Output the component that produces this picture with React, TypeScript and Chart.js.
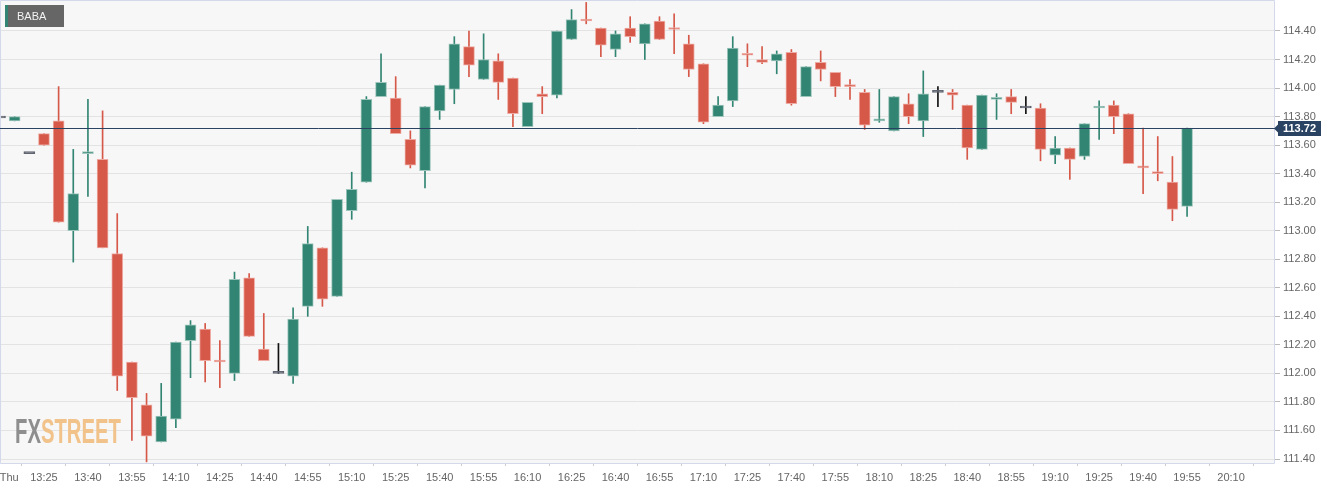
import { useEffect, useRef } from "react";
import { Chart, registerables } from "chart.js";

Chart.register(...registerables);

const SYMBOL = "BABA";
const START_TIME = "13:10";
const X_TICK_LABELS = ["Thu", "13:25", "13:40", "13:55", "14:10", "14:25", "14:40", "14:55", "15:10", "15:25", "15:40", "15:55", "16:10", "16:25", "16:40", "16:55", "17:10", "17:25", "17:40", "17:55", "18:10", "18:25", "18:40", "18:55", "19:10", "19:25", "19:40", "19:55", "20:10"];
const Y_TICKS = [111.4, 111.6, 111.8, 112.0, 112.2, 112.4, 112.6, 112.8, 113.0, 113.2, 113.4, 113.6, 113.8, 114.0, 114.2, 114.4];

const times = [
  "13:10", "13:15", "13:20", "13:25", "13:30", "13:35", "13:40", "13:45", "13:50", "13:55",
  "14:00", "14:05", "14:10", "14:15", "14:20", "14:25", "14:30", "14:35", "14:40", "14:45",
  "14:50", "14:55", "15:00", "15:05", "15:10", "15:15", "15:20", "15:25", "15:30", "15:35",
  "15:40", "15:45", "15:50", "15:55", "16:00", "16:05", "16:10", "16:15", "16:20", "16:25",
  "16:30", "16:35", "16:40", "16:45", "16:50", "16:55", "17:00", "17:05", "17:10", "17:15",
  "17:20", "17:25", "17:30", "17:35", "17:40", "17:45", "17:50", "17:55", "18:00", "18:05",
  "18:10", "18:15", "18:20", "18:25", "18:30", "18:35", "18:40", "18:45", "18:50", "18:55",
  "19:00", "19:05", "19:10", "19:15", "19:20", "19:25", "19:30", "19:35", "19:40", "19:45",
  "19:50", "19:55",
];

const opens = [
  113.79, 113.77, 113.54, 113.68, 113.77, 113.00, 113.54, 113.50, 112.84, 112.08,
  111.78, 111.52, 111.68, 112.23, 112.31, 112.09, 112.00, 112.67, 112.17, 112.00,
  111.98, 112.47, 112.88, 112.54, 113.14, 113.34, 113.94, 113.93, 113.64, 113.42,
  113.84, 113.99, 114.29, 114.06, 114.19, 114.07, 113.73, 113.96, 113.95, 114.34,
  114.48, 114.42, 114.27, 114.42, 114.31, 114.47, 114.42, 114.31, 114.17, 113.80,
  113.91, 114.24, 114.20, 114.19, 114.25, 113.94, 114.18, 114.11, 114.02, 113.97,
  113.77, 113.70, 113.89, 113.77, 113.97, 113.97, 113.88, 113.57, 113.92, 113.94,
  113.86, 113.86, 113.53, 113.58, 113.52, 113.86, 113.88, 113.82, 113.45, 113.41,
  113.34, 113.17,
];

const highs = [
  113.79, 113.80, 113.54, 113.68, 114.01, 113.57, 113.92, 113.84, 113.12, 112.08,
  111.86, 111.93, 112.22, 112.37, 112.35, 112.23, 112.71, 112.70, 112.42, 112.21,
  112.46, 113.03, 112.88, 113.22, 113.41, 113.94, 114.24, 114.08, 113.70, 113.87,
  114.02, 114.36, 114.40, 114.38, 114.24, 114.07, 113.90, 114.01, 114.40, 114.55,
  114.60, 114.42, 114.40, 114.50, 114.45, 114.50, 114.52, 114.37, 114.17, 113.94,
  114.36, 114.31, 114.29, 114.26, 114.27, 114.15, 114.26, 114.11, 114.06, 113.99,
  113.99, 113.94, 113.96, 114.12, 114.01, 113.99, 113.88, 113.95, 113.96, 113.99,
  113.94, 113.89, 113.66, 113.58, 113.75, 113.91, 113.91, 113.82, 113.72, 113.66,
  113.52, 113.72,
];

const lows = [
  113.79, 113.77, 113.54, 113.60, 113.06, 112.78, 113.24, 112.88, 111.88, 111.53,
  111.38, 111.52, 111.62, 111.97, 111.94, 111.90, 111.95, 112.26, 112.09, 112.00,
  111.93, 112.40, 112.47, 112.54, 113.08, 113.34, 113.94, 113.68, 113.44, 113.30,
  113.78, 113.89, 114.08, 114.06, 113.92, 113.73, 113.73, 113.82, 113.93, 114.34,
  114.45, 114.22, 114.22, 114.32, 114.20, 114.34, 114.24, 114.08, 113.75, 113.80,
  113.87, 114.15, 114.17, 114.10, 113.88, 113.94, 114.05, 113.94, 113.92, 113.71,
  113.76, 113.70, 113.75, 113.66, 113.87, 113.85, 113.50, 113.57, 113.78, 113.82,
  113.82, 113.49, 113.47, 113.36, 113.50, 113.64, 113.68, 113.47, 113.26, 113.35,
  113.07, 113.10,
];

const closes = [
  113.79, 113.80, 113.54, 113.60, 113.06, 113.26, 113.55, 112.88, 111.98, 111.83,
  111.56, 111.70, 112.22, 112.34, 112.09, 112.08, 112.66, 112.26, 112.09, 112.00,
  112.38, 112.91, 112.52, 113.22, 113.29, 113.92, 114.04, 113.68, 113.46, 113.87,
  114.02, 114.31, 114.16, 114.20, 114.04, 113.82, 113.90, 113.94, 114.40, 114.48,
  114.47, 114.30, 114.38, 114.36, 114.45, 114.34, 114.41, 114.13, 113.76, 113.88,
  114.28, 114.23, 114.18, 114.24, 113.89, 114.15, 114.13, 114.01, 114.01, 113.74,
  113.78, 113.94, 113.80, 113.96, 113.97, 113.95, 113.58, 113.95, 113.93, 113.90,
  113.86, 113.57, 113.58, 113.50, 113.75, 113.87, 113.80, 113.47, 113.44, 113.40,
  113.15, 113.72,
];

const UP = "#338573";
const UP_EDGE = "#9fc6bc";
const DOWN = "#d55848";
const DOWN_EDGE = "#eeaba3";
const FLAT = "#5f6470";
const FLAT_WICK = "#111111";
const NAVY = "#2b4363";
const FONT = '"Liberation Sans", Arial, sans-serif';

const toMin = (t: string) => {
  const [h, m] = t.split(":").map(Number);
  return h * 60 + m;
};
const startMin = toMin(START_TIME);

const zeroPad = (s: any) => {
  s.paddingLeft = 0;
  s.paddingRight = 0;
  s.paddingTop = 0;
  s.paddingBottom = 0;
};

export default function App() {
  const ref = useRef<HTMLCanvasElement | null>(null);

  useEffect(() => {
    document.body.style.margin = "0";
    const canvas = ref.current;
    if (!canvas) return;

    const xs = times.map((t) => toMin(t) - startMin);
    const kind = opens.map((o, i) => (closes[i] > o ? 1 : closes[i] < o ? -1 : 0));
    const bodyFill = kind.map((k) => (k > 0 ? UP : k < 0 ? DOWN : FLAT));
    const bodyEdge = kind.map((k) => (k > 0 ? UP_EDGE : k < 0 ? DOWN_EDGE : FLAT));
    const wickFill = kind.map((k) => (k > 0 ? UP : k < 0 ? DOWN : FLAT_WICK));
    const lastClose = closes[closes.length - 1];

    const decor = {
      id: "decor",
      beforeDraw(chart: any) {
        const { ctx, chartArea: a } = chart;
        ctx.save();
        ctx.fillStyle = "#f7f7f7";
        ctx.fillRect(a.left, a.top, a.right - a.left, a.bottom - a.top);
        ctx.restore();
      },
      beforeDatasetsDraw(chart: any) {
        const { ctx, chartArea: a } = chart;
        ctx.save();
        ctx.font = 'bold 35px "Liberation Sans Narrow", "Liberation Sans", sans-serif';
        ctx.textBaseline = "alphabetic";
        const fxW = ctx.measureText("FX").width;
        const allW = ctx.measureText("FXSTREET").width;
        const sx = 106 / allW;
        ctx.translate(a.left + 15, a.bottom - 20);
        ctx.scale(sx, 1);
        ctx.fillStyle = "#8e8e8e";
        ctx.fillText("FX", 0, 0);
        ctx.fillStyle = "#f1c28a";
        ctx.fillText("STREET", fxW, 0);
        ctx.restore();
      },
      afterDatasetsDraw(chart: any) {
        const { ctx, chartArea: a, scales } = chart;
        const y = Math.round(scales.y.getPixelForValue(lastClose)) + 0.5;
        ctx.save();
        // frame
        ctx.strokeStyle = "#d3d9ea";
        ctx.lineWidth = 1;
        ctx.beginPath();
        ctx.moveTo(a.left + 0.5, a.bottom + 0.5);
        ctx.lineTo(a.left + 0.5, a.top + 0.5);
        ctx.lineTo(a.right - 0.5, a.top + 0.5);
        ctx.lineTo(a.right - 0.5, a.bottom + 0.5);
        ctx.lineTo(a.left + 0.5, a.bottom + 0.5);
        ctx.stroke();
        // last price line
        ctx.strokeStyle = NAVY;
        ctx.beginPath();
        ctx.moveTo(a.left, y);
        ctx.lineTo(a.right, y);
        ctx.stroke();
        // price tag
        const bx = a.right + 3;
        ctx.fillStyle = NAVY;
        ctx.beginPath();
        ctx.moveTo(a.right - 1, y);
        ctx.lineTo(bx, y - 4);
        ctx.lineTo(bx, y + 4);
        ctx.closePath();
        ctx.fill();
        ctx.fillRect(bx, y - 7.5, 43, 15);
        ctx.fillStyle = "#ffffff";
        ctx.font = "bold 11px " + FONT;
        ctx.textAlign = "center";
        ctx.textBaseline = "middle";
        ctx.fillText(lastClose.toFixed(2), bx + 21.5, y + 0.5);
        // symbol box
        ctx.fillStyle = "#666666";
        ctx.fillRect(a.left + 5, a.top + 5, 59, 22);
        ctx.fillStyle = UP;
        ctx.fillRect(a.left + 5, a.top + 5, 3, 22);
        ctx.fillStyle = "#f2f2f2";
        ctx.font = "11px " + FONT;
        ctx.textAlign = "left";
        ctx.fillText(SYMBOL, a.left + 17, a.top + 16.5);
        ctx.restore();
      },
    };

    const chart = new Chart(canvas, {
      type: "bar",
      data: {
        datasets: [
          {
            label: "body",
            data: xs.map((x, i) => ({ x, y: [opens[i], closes[i]] })) as any,
            backgroundColor: bodyFill,
            borderColor: bodyEdge,
            borderWidth: 1,
            borderSkipped: false,
            barThickness: 11,
            minBarLength: 2,
            grouped: false,
            order: 1,
          } as any,
          {
            label: "wick",
            data: xs.map((x, i) => ({ x, y: [lows[i], highs[i]] })) as any,
            backgroundColor: wickFill,
            borderWidth: 0,
            barThickness: 1,
            grouped: false,
            order: 2,
          } as any,
        ],
      },
      options: {
        animation: false,
        responsive: false,
        events: [],
        layout: { autoPadding: false, padding: 0 } as any,
        plugins: { legend: { display: false }, tooltip: { enabled: false } },
        scales: {
          x: {
            type: "linear",
            min: 0,
            max: 435,
            offset: false,
            afterBuildTicks: (s: any) => {
              s.ticks = X_TICK_LABELS.map((_, i) => ({ value: i * 15 }));
            },
            afterFit: (s: any) => {
              s.height = 26;
              zeroPad(s);
            },
            grid: { drawOnChartArea: false, drawTicks: true, tickLength: 3, tickColor: "#cccccc" },
            border: { display: false },
            ticks: {
              autoSkip: false,
              maxRotation: 0,
              padding: 5,
              color: "#666666",
              font: { family: FONT, size: 11 },
              callback: (v: any) => {
                const lbl = X_TICK_LABELS[Math.round(Number(v) / 15)] ?? "";
                return Number(v) === 0 ? "      " + lbl : lbl;
              },
            },
          },
          y: {
            type: "linear",
            position: "right",
            min: 111.372,
            max: 114.617,
            afterBuildTicks: (s: any) => {
              s.ticks = Y_TICKS.map((v) => ({ value: v }));
            },
            afterFit: (s: any) => {
              s.width = 65;
              zeroPad(s);
            },
            grid: { color: "#e3e3e3", tickColor: "#bbbbbb", tickLength: 5, drawTicks: true },
            border: { display: false },
            ticks: {
              padding: 3,
              color: "#666666",
              font: { family: FONT, size: 11 },
              callback: (v: any) => Number(v).toFixed(2),
            },
          },
        },
      },
      plugins: [decor],
    });

    return () => chart.destroy();
  }, []);

  return <canvas ref={ref} width={1340} height={489} style={{ display: "block" }} />;
}
